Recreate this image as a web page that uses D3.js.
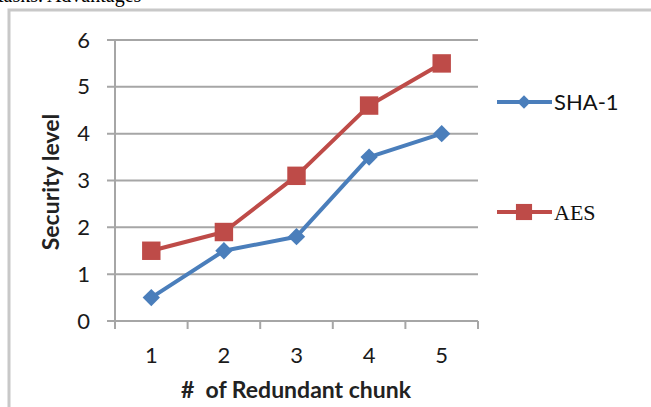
<!DOCTYPE html>
<html>
<head>
<meta charset="utf-8">
<script src="https://cdn.jsdelivr.net/npm/d3@7"></script>
<style>
  body { margin: 0; background: #fff; }
  svg { display: block; }
  text { font-family: Lato, "Open Sans", sans-serif; fill: #222; }
</style>
</head>
<body>
<div id="chart"></div>
<script>
const categories = ["1", "2", "3", "4", "5"];
const sha1 = [0.5, 1.5, 1.8, 3.5, 4.0];
const aes = [1.5, 1.9, 3.1, 4.6, 5.5];
const yTicks = [0, 1, 2, 3, 4, 5, 6];

const W = 651, H = 407;
const margin = {top: 40, right: 173, bottom: 86, left: 115};

const svg = d3.select("#chart").append("svg")
  .attr("width", W)
  .attr("height", H);

// cut-off text from the page above the figure
svg.append("text")
  .attr("x", -2).attr("y", 2)
  .style("font-family", "'Liberation Serif', serif")
  .style("font-size", "20px")
  .style("fill", "#000")
  .text("tasks. Advantages");

// frame of the figure
svg.append("path")
  .attr("d", "M9," + H + "V10H" + W)
  .attr("fill", "none")
  .attr("stroke", "#c8c8c8")
  .attr("stroke-width", 3);

const x = d3.scaleBand()
  .domain(categories)
  .range([margin.left, W - margin.right]);

const y = d3.scaleLinear()
  .domain([0, 6])
  .range([H - margin.bottom, margin.top]);

// gridlines
svg.append("g")
  .selectAll("line")
  .data(yTicks)
  .enter()
  .append("line")
  .attr("x1", margin.left - 8)
  .attr("x2", W - margin.right)
  .attr("y1", d => y(d))
  .attr("y2", d => y(d))
  .attr("stroke", "#a6a6a6")
  .attr("stroke-width", 2);

// y axis
const yAxis = svg.append("g")
  .attr("transform", "translate(" + margin.left + ",0)")
  .call(d3.axisLeft(y).tickValues(yTicks).tickFormat(d3.format("d")).tickSize(0).tickPadding(25));
yAxis.select(".domain").attr("stroke", "#a6a6a6").attr("stroke-width", 2)
  .attr("d", "M0," + y(6) + "V" + (y(0) + 4));
yAxis.selectAll("text").style("font-size", "22px").style("fill", "#1a1a1a")
  .style("font-family", "Lato, sans-serif");

// x axis
const xAxis = svg.append("g")
  .attr("transform", "translate(0," + y(0) + ")")
  .call(d3.axisBottom(x).tickSize(0).tickPadding(26));
xAxis.select(".domain").attr("stroke", "#a6a6a6").attr("stroke-width", 2)
  .attr("d", "M" + (margin.left - 8) + ",0H" + (W - margin.right));
xAxis.selectAll("text").style("font-size", "22px").style("fill", "#1a1a1a")
  .style("font-family", "Lato, sans-serif");

// tick marks between categories
svg.append("g")
  .selectAll("line")
  .data(categories.concat(["end"]))
  .enter()
  .append("line")
  .attr("x1", (d, i) => margin.left + i * x.step())
  .attr("x2", (d, i) => margin.left + i * x.step())
  .attr("y1", y(0))
  .attr("y2", y(0) + 8)
  .attr("stroke", "#a6a6a6")
  .attr("stroke-width", 2);

// axis titles
svg.append("text")
  .attr("x", 296)
  .attr("y", 398)
  .attr("text-anchor", "middle")
  .style("font-weight", "bold")
  .style("font-size", "23px")
  .style("white-space", "pre")
  .attr("xml:space", "preserve")
  .text("#  of Redundant chunk");

svg.append("text")
  .attr("transform", "translate(59,182) rotate(-90)")
  .attr("text-anchor", "middle")
  .style("font-weight", "bold")
  .style("font-size", "23px")
  .text("Security level");

const cx = d => x(d) + x.bandwidth() / 2;
const line = d3.line()
  .x((d, i) => cx(categories[i]))
  .y(d => y(d));

const series = [
  {name: "SHA-1", values: sha1, color: "#4a7ebb", marker: d3.symbolSquare, size: 150, rot: 45},
  {name: "AES", values: aes, color: "#be4b48", marker: d3.symbolSquare, size: 340, rot: 0}
];

series.forEach(s => {
  svg.append("path")
    .datum(s.values)
    .attr("d", line)
    .attr("fill", "none")
    .attr("stroke", s.color)
    .attr("stroke-width", 4)
    .attr("stroke-linejoin", "round");

  svg.append("g")
    .selectAll("path")
    .data(s.values)
    .enter()
    .append("path")
    .attr("transform", (d, i) => "translate(" + cx(categories[i]) + "," + y(d) + ") rotate(" + s.rot + ")")
    .attr("d", d3.symbol().type(s.marker).size(s.size))
    .attr("fill", s.color);
});

// legend
const legendY = [102, 212];
const legendSize = [90, 260];
series.forEach((s, i) => {
  const g = svg.append("g").attr("transform", "translate(497," + legendY[i] + ")");
  g.append("line")
    .attr("x1", 0).attr("x2", 55)
    .attr("stroke", s.color)
    .attr("stroke-width", 4);
  g.append("path")
    .attr("transform", "translate(27,0) rotate(" + s.rot + ")")
    .attr("d", d3.symbol().type(s.marker).size(legendSize[i]))
    .attr("fill", s.color);
  g.append("text")
    .attr("x", 57)
    .attr("y", 0)
    .attr("dy", "0.35em")
    .style("font-size", "22px")
    .style("font-family", i === 0 ? "Lato, sans-serif" : "'Liberation Serif', serif")
    .style("fill", "#111")
    .text(s.name);
});
</script>
</body>
</html>
